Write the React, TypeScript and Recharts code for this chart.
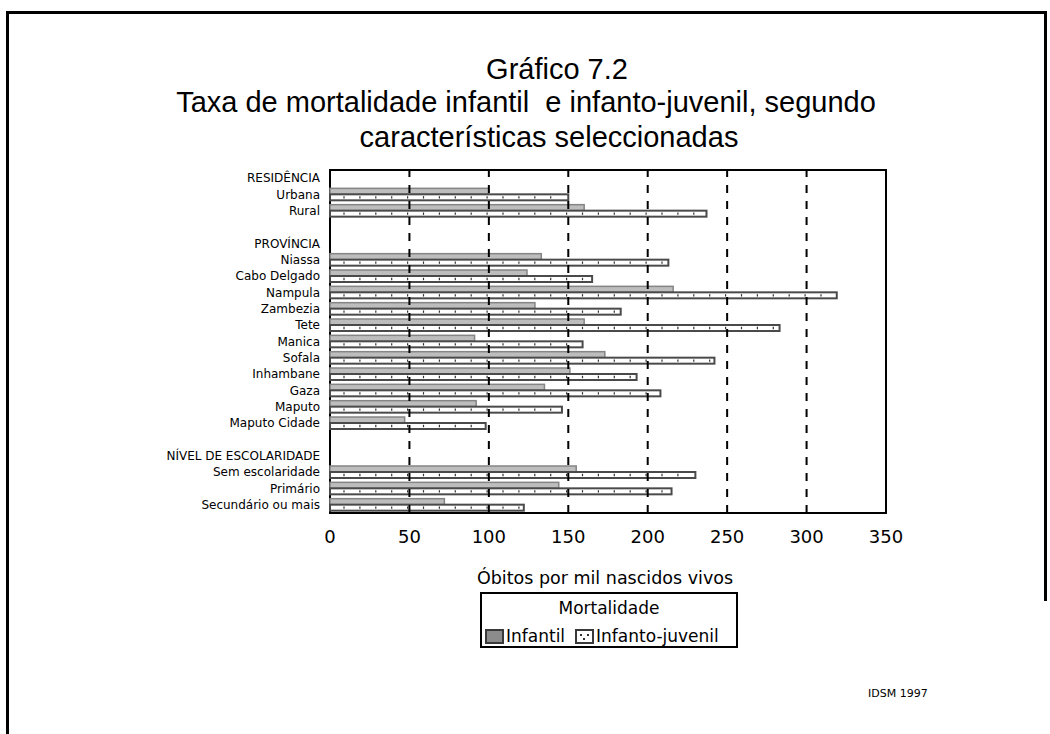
import React from 'react';
import { BarChart, Bar, XAxis, YAxis, ReferenceLine, ReferenceArea } from 'recharts';

const categories = [
  'RESIDÊNCIA', 'Urbana', 'Rural', ' ',
  'PROVÍNCIA', 'Niassa', 'Cabo Delgado', 'Nampula', 'Zambezia', 'Tete', 'Manica', 'Sofala', 'Inhambane', 'Gaza', 'Maputo', 'Maputo Cidade', '  ',
  'NÍVEL DE ESCOLARIDADE', 'Sem escolaridade', 'Primário', 'Secundário ou mais',
];
const infantil: (number | null)[] = [
  null, 100, 160, null,
  null, 133, 124, 216, 129, 160, 91, 173, 151, 135, 92, 47, null,
  null, 155, 144, 72,
];
const infantoJuvenil: (number | null)[] = [
  null, 150, 237, null,
  null, 213, 165, 319, 183, 283, 159, 242, 193, 208, 146, 98, null,
  null, 230, 215, 122,
];
const xTicks = [0, 50, 100, 150, 200, 250, 300, 350];
const gridValues = [50, 100, 150, 200, 250, 300];

const data = categories.map((name, i) => ({ name, infantil: infantil[i], ij: infantoJuvenil[i] }));

const FONT = '"DejaVu Sans", sans-serif';

const InfantilShape = (props: any) => {
  const { x, y, width, height } = props;
  if (!width || width <= 0) return null;
  return <rect x={x} y={y} width={width} height={height} fill="#bdbdbd" stroke="#858585" strokeWidth={1.5} />;
};

const IJShape = (props: any) => {
  const { x, y, width, height } = props;
  if (!width || width <= 0) return null;
  const cy = y + height / 2;
  const marks: number[] = [];
  for (let t = x + 14; t < x + width - 3; t += 15.9) marks.push(t);
  return (
    <g>
      <rect x={x} y={y} width={width} height={height} fill="#ffffff" stroke="#4a4a4a" strokeWidth={2} />
      {marks.map((m, i) => (
        <line key={i} x1={m} x2={m} y1={cy - 1.2} y2={cy + 1.2} stroke="#333" strokeWidth={1.2} />
      ))}
    </g>
  );
};

export default function App() {
  return (
    <div style={{ position: 'absolute', left: 0, top: 0, width: 1050, height: 734, background: '#fff', overflow: 'hidden' }}>
      {/* page frame */}
      <div style={{ position: 'absolute', left: 6, top: 11, width: 1041, height: 3, background: '#000' }} />
      <div style={{ position: 'absolute', left: 6, top: 11, width: 3, height: 723, background: '#000' }} />
      <div style={{ position: 'absolute', left: 1044, top: 11, width: 3, height: 590, background: '#000' }} />

      {/* titles */}
      {[
        { t: 'Gráfico 7.2', cx: 557, cy: 69 },
        { t: 'Taxa de mortalidade infantil  e infanto-juvenil, segundo', cx: 526, cy: 102 },
        { t: 'características seleccionadas', cx: 549, cy: 137 },
      ].map((l, i) => (
        <div
          key={i}
          style={{
            position: 'absolute', left: l.cx - 450, top: l.cy - 17, width: 900, height: 34,
            lineHeight: '34px', textAlign: 'center', whiteSpace: 'pre',
            fontFamily: '"Liberation Sans", Arial, sans-serif', fontSize: 29, color: '#000',
          }}
        >
          {l.t}
        </div>
      ))}

      <div style={{ position: 'absolute', left: 0, top: 0 }}>
        <BarChart
          width={1050}
          height={734}
          data={data}
          layout="vertical"
          margin={{ top: 170, right: 164, bottom: 191, left: 0 }}
          barGap={0}
          barSize={6}
        >
          <XAxis
            type="number"
            domain={[0, 350]}
            ticks={xTicks}
            height={30}
            axisLine={false}
            tickLine={false}
            tickMargin={11}
            tick={{ fontSize: 18, fill: '#000', fontFamily: FONT }}
          />
          <YAxis
            type="category"
            dataKey="name"
            width={330}
            axisLine={false}
            tickLine={false}
            interval={0}
            tickMargin={4}
            tick={{ fontSize: 12, fill: '#000', fontFamily: FONT }}
          />
          <Bar dataKey="infantil" isAnimationActive={false} shape={<InfantilShape />} />
          <Bar dataKey="ij" isAnimationActive={false} shape={<IJShape />} />
          {gridValues.map((v) => (
            <ReferenceLine key={v} x={v} stroke="#000" strokeWidth={2} strokeDasharray="8 8" />
          ))}
          <ReferenceArea x1={0} x2={350} fill="none" fillOpacity={0} stroke="#000" strokeWidth={2} ifOverflow="visible" />
        </BarChart>
      </div>

      {/* x axis label */}
      <div style={{ position: 'absolute', left: 405, top: 567, width: 400, textAlign: 'center', fontFamily: FONT, fontSize: 17.5, lineHeight: '22px', color: '#000' }}>
        Óbitos por mil nascidos vivos
      </div>

      {/* legend */}
      <div style={{ position: 'absolute', left: 480, top: 592, width: 258, height: 56, border: '2px solid #000', boxSizing: 'border-box', fontFamily: FONT, fontSize: 17, color: '#000' }}>
        <div style={{ position: 'absolute', left: 0, top: 4, width: '100%', textAlign: 'center', lineHeight: '20px' }}>Mortalidade</div>
        <div style={{ position: 'absolute', left: 3, top: 32, height: 20, display: 'flex', alignItems: 'center', whiteSpace: 'nowrap' }}>
          <svg width={19} height={15} style={{ marginRight: 2 }}>
            <rect x={1} y={1} width={17} height={13} fill="#8c8c8c" stroke="#3a3a3a" strokeWidth={2} />
          </svg>
          <span style={{ marginRight: 10 }}>Infantil</span>
          <svg width={19} height={15} style={{ marginRight: 2 }}>
            <rect x={1} y={1} width={17} height={13} fill="#fff" stroke="#3a3a3a" strokeWidth={2} />
            <rect x={5} y={5} width={2} height={2} fill="#333" />
            <rect x={12} y={5} width={2} height={2} fill="#333" />
            <rect x={8} y={9} width={2} height={2} fill="#333" />
          </svg>
          <span>Infanto-juvenil</span>
        </div>
      </div>

      <div style={{ position: 'absolute', left: 868, top: 686, fontFamily: FONT, fontSize: 11, lineHeight: '16px', color: '#000', whiteSpace: 'nowrap' }}>
        IDSM 1997
      </div>
    </div>
  );
}
